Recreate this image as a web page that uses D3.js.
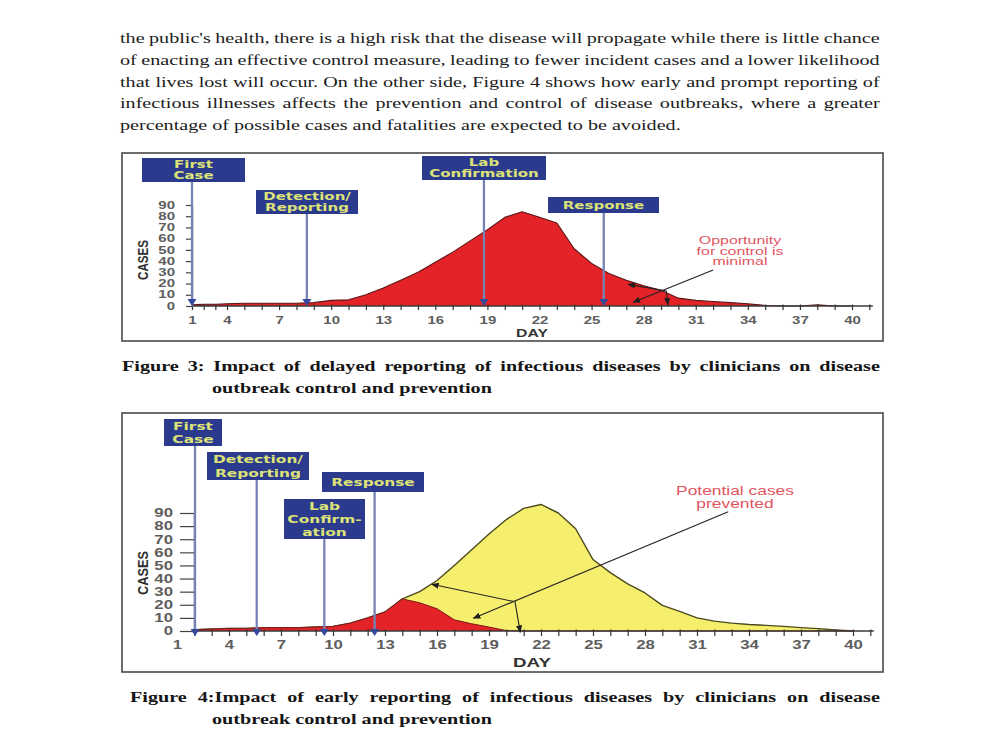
<!DOCTYPE html>
<html>
<head>
<meta charset="utf-8">
<script src="https://cdn.jsdelivr.net/npm/d3@7"></script>
<style>
body { margin: 0; background: #fff; }
</style>
</head>
<body>
<script>
// ---- data ----
const days = d3.range(1, 41)
const delayedCases = [1, 1.5, 1.5, 2, 2.5, 2.5, 2.5, 2.5, 3, 5,
                      5.5, 10, 16, 23, 30, 39, 48, 58, 68, 79,
                      84, 79, 74, 51, 38, 29, 23, 18, 14, 7,
                      5, 4, 3, 2, 0.5, 0, 0, 1, 0, 0]
const earlyCases = [1, 1, 1.5, 2, 2, 2.5, 2.5, 2.5, 3, 3.5,
                    6, 10, 14.5, 24.5, 21.5, 17, 8.5, 5.5, 3, 0.3,
                    0, 0, 0, 0, 0, 0, 0, 0, 0, 0,
                    0, 0, 0, 0, 0, 0, 0, 0, 0, 0]
const potentialCases = [1, 1, 1.5, 2, 2, 2.5, 2.5, 2.5, 3, 3.5,
                        6, 10, 14.5, 24.5, 30, 38.5, 50, 62, 74, 85,
                        93.5, 96.5, 90, 78, 54.5, 44.5, 36, 29, 19.5, 15,
                        10, 7.5, 6, 5, 4.3, 3.5, 2.6, 1.8, 0.8, 0]
const xLabelDays = [1, 4, 7, 10, 13, 16, 19, 22, 25, 28, 31, 34, 37, 40]
const yTickValues = [0, 10, 20, 30, 40, 50, 60, 70, 80, 90]

const fig3MarkerNames = [["First", "Case"], ["Detection/", "Reporting"], ["Lab", "Confirmation"], ["Response"]]
const fig3MarkerDays = [1, 8.6, 18.8, 25.7]
const fig4MarkerNames = [["First", "Case"], ["Detection/", "Reporting"], ["Lab", "Confirm-", "ation"], ["Response"]]
const fig4MarkerDays = [2.04, 5.6, 9.5, 12.4]

const bodyLines = [
  "the public's health, there is a high risk that the disease will propagate while there is little chance",
  "of enacting an effective control measure, leading to fewer incident cases and a lower likelihood",
  "that lives lost will occur. On the other side, Figure 4 shows how early and prompt reporting of",
  "infectious illnesses affects the prevention and control of disease outbreaks, where a greater",
  "percentage of possible cases and fatalities are expected to be avoided."
]
const fig3Caption = ["Figure 3: Impact of delayed reporting of infectious diseases by clinicians on disease",
                     "outbreak control and prevention"]
const fig4Caption = ["Figure 4:Impact of early reporting of infectious diseases by clinicians on disease",
                     "outbreak control and prevention"]
const fig3Note = ["Opportunity", "for control is", "minimal"]
const fig4Note = ["Potential cases", "prevented"]

// ---- page ----
const svg = d3.select("body").append("svg").attr("width", 1000).attr("height", 750)
svg.append("rect").attr("width", 1000).attr("height", 750).attr("fill", "#fff")
const defs = svg.append("defs")
defs.append("marker").attr("id", "arrow")
    .attr("viewBox", "0 0 10 10").attr("refX", 9).attr("refY", 5)
    .attr("markerWidth", 7).attr("markerHeight", 7)
    .attr("orient", "auto-start-reverse")
    .append("path").attr("d", "M0,1 L10,5 L0,9 Z").attr("fill", "#1e1e1e")

// the scan is stretched sideways, so text gets a horizontal scale
function stretchText(parent, str, x, y, o) {
    return parent.append("text").text(str)
        .attr("transform", `translate(${x},${y}) scale(${o.sx},1)`)
        .attr("text-anchor", o.anchor || "start")
        .attr("font-family", o.family)
        .attr("font-size", o.size)
        .attr("font-weight", o.weight || "normal")
        .attr("fill", o.fill)
}

// justified block: last line fixes the stretch, the others get word spacing
function drawParagraph(lines, o) {
    const g = svg.append("g")
    const texts = lines.map(s => g.append("text").text(s)
        .attr("font-family", o.family).attr("font-size", o.size)
        .attr("font-weight", o.weight).attr("fill", o.fill))
    const lens = texts.map(t => t.node().getComputedTextLength())
    const sx = o.lastWidth / lens[lens.length - 1]
    texts.forEach((t, i) => {
        t.attr("transform", `translate(${o.x[i]},${o.y0 + i * o.lh}) scale(${sx},1)`)
        if (i < lines.length - 1) {
            const gaps = lines[i].split(" ").length - 1
            t.style("word-spacing", ((o.width[i] / sx - lens[i]) / gaps) + "px")
        }
    })
}

drawParagraph(bodyLines, {
    family: "'Liberation Serif', 'Times New Roman', serif", size: 15, weight: "normal", fill: "#1c1c1c",
    x: [120, 120, 120, 120, 120], width: [760, 760, 760, 760], lastWidth: 561, y0: 43, lh: 21.8
})
drawParagraph(fig3Caption, {
    family: "'Liberation Serif', 'Times New Roman', serif", size: 14.5, weight: "bold", fill: "#151515",
    x: [122, 212], width: [758], lastWidth: 280, y0: 371, lh: 22
})
drawParagraph(fig4Caption, {
    family: "'Liberation Serif', 'Times New Roman', serif", size: 14.5, weight: "bold", fill: "#151515",
    x: [130, 212], width: [750], lastWidth: 280, y0: 702, lh: 21.6
})

const sansBold = "'DejaVu Sans', sans-serif"
const sans = "'Liberation Sans', Arial, sans-serif"

function drawChart(c) {
    const g = svg.append("g")
    const x = d3.scaleLinear().domain(c.xDomain).range(c.xRange)
    const y = d3.scaleLinear().domain([0, 90]).range([c.y0, c.y90])

    g.append("rect")
        .attr("x", c.frame[0]).attr("y", c.frame[1])
        .attr("width", c.frame[2] - c.frame[0]).attr("height", c.frame[3] - c.frame[1])
        .attr("fill", "none").attr("stroke", "#4a4a4a").attr("stroke-width", 1.6)

    const clipId = "clip" + c.id
    defs.append("clipPath").attr("id", clipId).append("rect")
        .attr("x", c.yAxisX).attr("y", c.frame[1])
        .attr("width", c.frame[2] - c.yAxisX).attr("height", c.y0 - c.frame[1] + 1)

    const area = d3.area().x((d, i) => x(days[i])).y0(y(0)).y1(d => y(d))
    const line = d3.line().x((d, i) => x(days[i])).y(d => y(d))
    c.series.forEach(s => {
        g.append("path").datum(s.values).attr("d", area)
            .attr("fill", s.fill).attr("clip-path", `url(#${clipId})`)
        g.append("path").datum(s.values).attr("d", line)
            .attr("fill", "none").attr("stroke", s.stroke).attr("stroke-width", s.sw)
            .attr("stroke-linejoin", "round").attr("clip-path", `url(#${clipId})`)
    })

    // x axis: line, daily ticks, labels every 3 days
    g.append("line")
        .attr("x1", c.yAxisX).attr("x2", x(41.2))
        .attr("y1", y(0)).attr("y2", y(0))
        .attr("stroke", "#3a3a3a").attr("stroke-width", 1.5)
    const ticks = g.append("g").attr("transform", `translate(0,${y(0)})`)
        .call(d3.axisBottom(x).tickValues(c.tickDays).tickSize(c.xTickLen).tickFormat(""))
    ticks.select(".domain").remove()
    ticks.selectAll("line").attr("stroke", "#333").attr("stroke-width", 1.2).attr("y1", -1.5)

    const labels = g.append("g").attr("transform", `translate(0,${c.xLabelY})`)
        .call(d3.axisBottom(x).tickValues(xLabelDays).tickSize(0).tickPadding(0).tickFormat(d3.format("d")))
    labels.select(".domain").remove()
    labels.selectAll("text")
        .attr("y", 0).attr("dy", 0)
        .attr("font-family", sans).attr("font-size", c.tickFont).attr("font-weight", "bold")
        .attr("fill", "#5e5e5e").attr("transform", `scale(${c.sx},1)`)

    // y axis
    const ya = g.append("g").attr("transform", `translate(${c.yAxisX},0)`)
        .call(d3.axisLeft(y).tickValues(yTickValues).tickSize(c.yTickLen).tickSizeOuter(0))
    ya.select(".domain").attr("stroke", "#6a6f86").attr("stroke-width", 1.5)
    ya.selectAll(".tick line").attr("stroke", "#444").attr("stroke-width", 1.2)
    ya.selectAll("text")
        .attr("x", -c.yLabelGap / c.sx)
        .attr("font-family", sans).attr("font-size", c.tickFont).attr("font-weight", "bold")
        .attr("fill", "#5e5e5e").attr("transform", `scale(${c.sx},1)`)

    g.append("text").text("CASES")
        .attr("transform", `translate(${c.casesPos[0]},${c.casesPos[1]}) rotate(-90)`)
        .attr("text-anchor", "middle")
        .attr("font-family", sans).attr("font-size", 15).attr("font-weight", "bold")
        .attr("textLength", c.casesLen).attr("lengthAdjust", "spacingAndGlyphs")
        .attr("fill", "#2e2e2e")
    stretchText(g, "DAY", c.dayPos[0], c.dayPos[1],
        { sx: 1.5, anchor: "middle", family: sans, size: c.tickFont + 0.5, weight: "bold", fill: "#333" })

    // milestone markers
    c.markerNames.forEach((lines, i) => {
        const b = c.boxes[i]
        const mx = x(c.markerDays[i])
        g.append("line")
            .attr("x1", mx).attr("x2", mx)
            .attr("y1", b[1] + b[3]).attr("y2", c.markerBottom - 4)
            .attr("stroke", "#7783b2").attr("stroke-width", 2.3)
        g.append("path")
            .attr("d", `M${mx - 4.5},${c.markerBottom - 7}L${mx + 4.5},${c.markerBottom - 7}L${mx},${c.markerBottom}Z`)
            .attr("fill", "#35489b")
        g.append("rect")
            .attr("x", b[0]).attr("y", b[1]).attr("width", b[2]).attr("height", b[3])
            .attr("fill", "#2c3a8e")
        const mid = b[1] + b[3] / 2
        lines.forEach((s, k) => {
            const cy = mid + (k - (lines.length - 1) / 2) * c.boxGap
            stretchText(g, s, b[0] + b[2] / 2, cy + c.boxFont * 0.37,
                { sx: c.boxSx, anchor: "middle", family: sansBold, size: c.boxFont, weight: "bold", fill: "#dce377" })
        })
    })

    // note and arrows
    c.note.forEach((s, k) => {
        stretchText(g, s, c.notePos[0], c.notePos[1] + k * c.noteGap,
            { sx: 1.45, anchor: "middle", family: sans, size: c.noteFont, fill: "#df5560" })
    })
    const aLine = d3.line().x(p => x(p[0])).y(p => y(p[1]))
    c.arrows.forEach(a => {
        g.append("path").datum(a.pts).attr("d", aLine)
            .attr("fill", "none").attr("stroke", "#222").attr("stroke-width", 1.1)
            .attr("marker-end", "url(#arrow)")
            .attr("marker-start", a.both ? "url(#arrow)" : null)
    })
}

drawChart({
    id: 3,
    frame: [122, 153, 883, 341],
    xDomain: [1, 4, 40], xRange: [192, 227, 852],
    y0: 306, y90: 205,
    yAxisX: 192,
    tickDays: d3.range(1, 42), xTickLen: 4, xLabelY: 323.5,
    yTickLen: 6, yLabelGap: 17,
    tickFont: 10, sx: 1.5,
    casesPos: [148, 260], casesLen: 40, dayPos: [532, 337],
    series: [{ values: delayedCases, fill: "#e42328", stroke: "#5a1616", sw: 1.1 }],
    markerNames: fig3MarkerNames, markerDays: fig3MarkerDays,
    boxes: [[142, 158, 103, 24], [256, 190, 102, 24], [422, 156, 124, 24], [548, 197, 111, 16]],
    boxFont: 10, boxGap: 11.3, boxSx: 1.5,
    markerBottom: 306,
    note: fig3Note, notePos: [740, 244], noteGap: 10.5, noteFont: 11,
    arrows: [
        { pts: [[32.0, 32], [27.4, 3.3]], both: false },
        { pts: [[27.1, 19.3], [29.3, 13.4], [29.4, 0.9]], both: true }
    ]
})

drawChart({
    id: 4,
    frame: [122, 413, 883, 672],
    xDomain: [1, 40], xRange: [177, 853],
    y0: 631, y90: 513,
    yAxisX: 194,
    tickDays: d3.range(2, 42), xTickLen: 5, xLabelY: 649,
    yTickLen: 14, yLabelGap: 21,
    tickFont: 12, sx: 1.4,
    casesPos: [148, 573], casesLen: 44, dayPos: [532, 667],
    series: [
        { values: potentialCases, fill: "#f6ee6d", stroke: "#4b4a1c", sw: 1.4 },
        { values: earlyCases, fill: "#e42328", stroke: "#7a1a1a", sw: 1 }
    ],
    markerNames: fig4MarkerNames, markerDays: fig4MarkerDays,
    boxes: [[164, 419, 58, 27], [207, 452, 102, 28], [284, 499, 81, 40], [322, 472, 102, 20]],
    boxFont: 11, boxGap: 13.3, boxSx: 1.4,
    markerBottom: 636,
    note: fig4Note, notePos: [735, 495], noteGap: 13.3, noteFont: 12,
    arrows: [
        { pts: [[32.8, 91], [18.1, 9.7]], both: false },
        { pts: [[15.7, 35.6], [20.5, 22.3], [20.8, -1]], both: true }
    ]
})
</script>
</body>
</html>
